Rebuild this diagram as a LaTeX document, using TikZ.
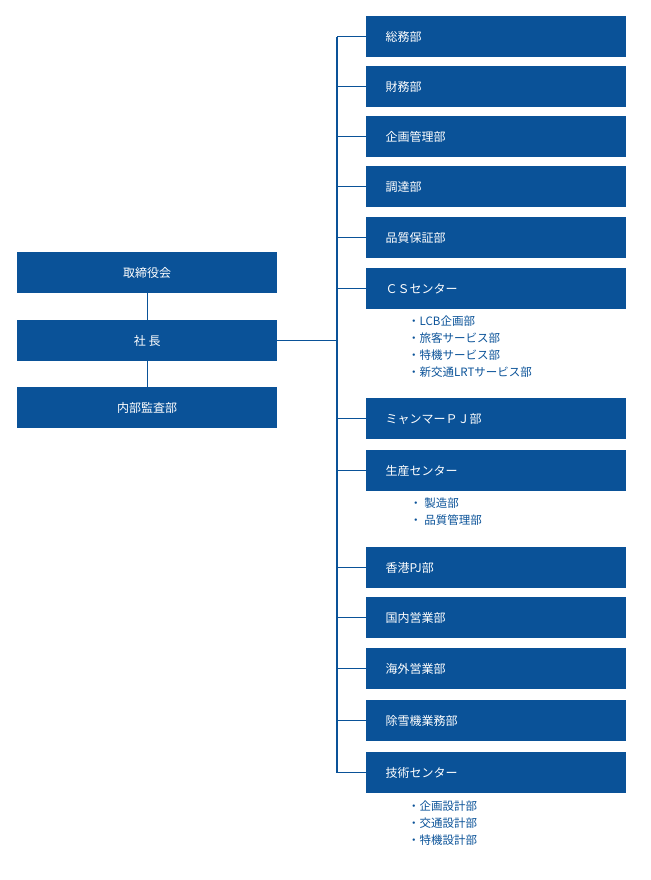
\documentclass[tikz,border=0pt]{standalone}
\usepackage{fontspec}
\setmainfont{Noto Sans CJK JP}
\definecolor{bl}{HTML}{0A5298}
\begin{document}
\begin{tikzpicture}[x=1pt,y=-1pt,
 box/.style={fill=bl,text=white,minimum width=260pt,minimum height=41pt,inner sep=0pt,font=\fontsize{12}{14}\selectfont},
 rbox/.style={box,anchor=north west,text width=221pt,align=left},
 lbox/.style={box,anchor=north west,align=center},
 sub/.style={text=bl,anchor=north west,font=\fontsize{11.5}{17}\selectfont,align=left,inner sep=0pt},
 ln/.style={draw=bl,line width=1.3pt}]
\useasboundingbox (0,0) rectangle (650,880);
\node[lbox] (a) at (17,252) {取締役会};
\node[lbox] (b) at (17,320) {社 長};
\node[lbox] (c) at (17,387) {内部監査部};
\draw[ln] (a.south) -- (b.north) (b.south) -- (c.north);
\foreach \n/\y/\t in {r1/16/総務部,r2/66/財務部,r3/116/企画管理部,r4/166/調達部,r5/217/品質保証部,r6/268/ＣＳセンター,r7/398/ミャンマーＰＪ部,r8/450/生産センター,r9/547/香港PJ部,r10/597/国内営業部,r11/648/海外営業部,r12/700/除雪機業務部,r13/752/技術センター}{
 \node[rbox] (\n) at (366,\y) {\t};
 \draw[ln] (\n.west) -- ++(-29,0);
}
\coordinate (t1) at ([xshift=-29pt]r1.west);
\coordinate (t2) at ([xshift=-29pt]r13.west);
\draw[ln] (t1) -- (t2);
\draw[ln] (b.east) -- (t1 |- b.east);
\node[sub] (s1) at (408,316) {・LCB企画部\\・旅客サービス部\\・特機サービス部\\・新交通LRTサービス部};
\node[sub] (s2) at (410,498) {・ 製造部\\・ 品質管理部};
\node[sub] (s3) at (408,801) {・企画設計部\\・交通設計部\\・特機設計部};
\end{tikzpicture}
\end{document}
